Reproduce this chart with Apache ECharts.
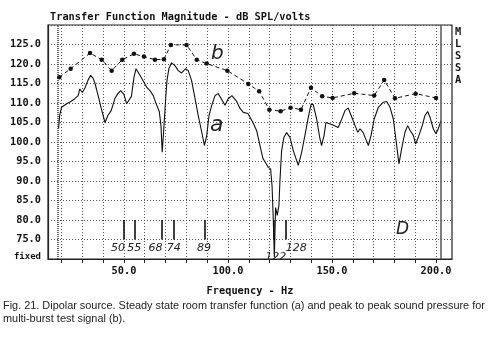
<!DOCTYPE html>
<html>
<head>
<meta charset="utf-8">
<title>Transfer Function Magnitude</title>
<script src="https://cdn.jsdelivr.net/npm/echarts@6.0.0/dist/echarts.min.js"></script>
<style>
  html, body { margin: 0; padding: 0; background: #fff; }
  #main { width: 500px; height: 351px; }
</style>
</head>
<body>
<div id="main"></div>
<script>
// curve (a): steady state room transfer function, [Hz, dB]
var curveA = [
  [18.6,103.5],[19.1,106.8],[20.0,108.9],[22.5,109.8],[24.5,110.4],[26.4,111.1],[28.0,111.9],
  [28.8,113.6],[30.0,112.7],[31.3,113.9],[32.7,115.8],[34.0,117.1],[35.2,116.3],[36.1,115.0],
  [37.6,111.9],[39.1,108.6],[40.9,105.0],[42.3,106.8],[43.9,108.1],[45.7,111.2],[47.1,112.4],
  [48.4,113.2],[50.0,112.2],[51.3,109.8],[52.2,109.4],[53.6,111.7],[54.8,116.5],[55.8,118.8],
  [57.7,117.1],[60.9,114.1],[62.5,113.2],[64.1,111.9],[65.4,109.9],[67.0,107.8],[67.8,104.2],
  [68.4,97.4],[69.1,102.9],[70.0,110.6],[70.7,115.8],[71.6,118.8],[72.9,120.3],[74.5,119.6],
  [76.1,118.3],[77.7,117.7],[79.7,118.8],[80.9,118.3],[82.5,115.8],[84.1,111.4],[85.7,106.8],
  [87.4,102.5],[88.7,99.1],[89.8,101.7],[90.9,106.8],[92.2,109.4],[93.8,111.9],[95.3,112.4],
  [97.0,110.9],[98.6,109.4],[100.1,111.1],[101.9,111.9],[104.2,110.4],[105.8,108.6],[107.4,107.6],
  [109.6,107.3],[112.0,105.0],[113.8,102.9],[115.4,99.1],[116.8,95.8],[118.3,94.5],[119.4,93.5],
  [120.5,93.1],[121.2,88.8],[121.8,79.9],[122.3,70.5],[122.9,83.2],[123.7,81.2],[124.5,83.7],
  [125.0,90.1],[125.8,97.8],[126.9,101.2],[128.2,102.4],[129.8,101.2],[131.4,97.8],[133.0,95.3],
  [133.8,94.0],[135.4,97.3],[137.0,101.7],[138.5,106.0],[139.9,109.6],[141.0,109.6],[142.6,106.0],
  [144.2,100.9],[145.0,99.1],[146.2,101.7],[147.1,105.0],[149.9,104.5],[153.0,103.7],[154.8,106.0],
  [156.3,108.1],[157.8,108.7],[159.5,106.4],[161.1,104.2],[162.4,102.5],[163.5,103.4],[165.0,102.4],
  [166.2,100.8],[167.5,99.1],[168.8,101.7],[170.3,105.9],[172.3,108.9],[174.7,110.2],[176.3,110.4],
  [177.9,108.9],[179.5,105.9],[181.1,99.1],[182.2,94.4],[183.5,98.3],[185.1,102.5],[186.4,104.2],
  [187.5,103.0],[189.1,101.7],[190.2,99.5],[191.5,101.2],[193.4,104.2],[194.7,106.8],[196.0,107.8],
  [197.1,106.4],[198.7,103.4],[200.0,102.1],[201.1,103.4],[202.4,105.5]
];

// curve (b): peak to peak sound pressure for multi-burst signal, [Hz, dB]
var curveB = [
  [18.9,116.6],[24.4,118.8],[33.7,122.8],[39.3,121.1],[44.1,118.3],[49.2,121.1],[54.8,122.6],
  [59.6,121.9],[64.9,121.1],[69.2,121.2],[72.6,124.9],[80.1,124.9],[85.0,121.1],[89.8,120.1],
  [99.7,118.3],[109.8,114.9],[115.0,113.0],[119.9,108.3],[125.3,107.9],[130.1,108.8],[135.1,108.3],
  [139.9,113.9],[145.3,111.7],[150.3,111.3],[160.7,112.5],[170.3,111.9],[175.1,115.9],[180.3,111.2],
  [190.2,112.4],[200.0,111.3]
];

// hand-marked frequencies (short bars from 75 to 80 dB)
var markFreqs = [50, 55, 68, 74, 89, 122, 128];
var markLabelOffsets = [[-6, 0], [0, 0], [-6, 0], [0, 0], [-1, 0], [2, 9], [10, 0]];
var markLow = 75, markHigh = 80;

// axis ticks
var xTicks = [20, 30, 40, 50, 60, 70, 80, 90, 100, 110, 120, 130, 140, 150, 160, 170, 180, 190, 200];
var xLabels = [50, 100, 150, 200];
var xMin = 13.5, xMax = 207.7;
var yMin = 70, yMax = 130, yStep = 5;

// cursor lines of the analyser screen
var cursorLeft = 18.3, cursorRight = 202.4;

var mono = 'DejaVu Sans Mono';
var chart = echarts.init(document.getElementById('main'));

var markData = markFreqs.map(function (f, i) {
  return [
    { coord: [f, markLow], name: String(f),
      label: { offset: markLabelOffsets[i] } },
    { coord: [f, markHigh] }
  ];
});

var option = {
  animation: false,
  backgroundColor: '#fff',
  title: [
    {
      text: 'Transfer Function Magnitude - dB SPL/volts',
      left: 50, top: 12, padding: 0,
      textStyle: { fontFamily: mono, fontSize: 10.3, fontWeight: 'bold', color: '#111' }
    },
    {
      text: 'M\nL\nS\nS\nA',
      left: 455, top: 26, padding: 0,
      textStyle: { fontFamily: mono, fontSize: 10.3, fontWeight: 'bold', color: '#111', lineHeight: 12 }
    },
    {
      text: 'Fig. 21. Dipolar source. Steady state room transfer function (a) and peak to peak sound pressure for\nmulti-burst test signal (b).',
      left: 3, top: 299, padding: 0,
      textStyle: { fontFamily: 'Liberation Sans', fontSize: 10.9, fontWeight: 'normal', color: '#222', lineHeight: 13 }
    }
  ],
  grid: {
    left: 48, right: 48, top: 25, bottom: 92,
    show: true, borderColor: '#222', borderWidth: 1.2
  },
  xAxis: {
    type: 'value', min: xMin, max: xMax,
    name: 'Frequency - Hz', nameLocation: 'middle', nameGap: 27,
    nameTextStyle: { fontFamily: mono, fontSize: 10.3, fontWeight: 'bold', color: '#111' },
    axisLine: { lineStyle: { color: '#222', width: 1.2 } },
    axisTick: { show: true, length: 4, customValues: xTicks, lineStyle: { color: '#222' } },
    axisLabel: {
      customValues: xLabels, margin: 7,
      fontFamily: mono, fontSize: 10.3, fontWeight: 'bold', color: '#111',
      formatter: function (v) { return v.toFixed(1); }
    },
    splitLine: { show: true, lineStyle: { color: '#555', type: [1, 2], width: 1 } }
  },
  yAxis: {
    type: 'value', min: yMin, max: yMax, interval: yStep,
    axisLine: { show: true, lineStyle: { color: '#222', width: 1.2 } },
    axisTick: { show: false },
    axisLabel: {
      margin: 7, fontFamily: mono, fontSize: 10.3, fontWeight: 'bold', color: '#111',
      formatter: function (v) {
        if (v === yMin) return '{f|fixed}';
        if (v === yMax) return '';
        return v.toFixed(1);
      },
      rich: { f: { fontFamily: mono, fontSize: 9, fontWeight: 'bold', color: '#111', padding: [0, 0, 4, 0] } }
    },
    splitLine: { show: true, lineStyle: { color: '#555', type: [1, 2], width: 1 } }
  },
  graphic: [
    { type: 'text', left: 211, top: 44, style: { text: 'b', font: 'italic 20px "DejaVu Sans"', fill: '#222' } },
    { type: 'text', left: 210, top: 114, style: { text: 'a', font: 'italic 22px "DejaVu Sans"', fill: '#222' } },
    { type: 'text', left: 396, top: 221, style: { text: 'D', font: 'italic 17px "DejaVu Sans"', fill: '#222' } }
  ],
  series: [
    {
      name: 'a', type: 'line', data: curveA,
      showSymbol: false, silent: true,
      lineStyle: { color: '#111', width: 1.1 },
      markLine: {
        silent: true, symbol: 'none',
        lineStyle: { color: '#111', width: 1.6, type: 'solid' },
        label: {
          show: true, position: 'start', distance: 3, formatter: '{b}',
          fontFamily: 'DejaVu Sans', fontStyle: 'italic', fontSize: 11, color: '#222'
        },
        data: markData.concat([
          [{ coord: [cursorLeft, yMin], label: { show: false }, lineStyle: { type: [1, 1], width: 1.5, color: '#333' } },
           { coord: [cursorLeft, yMax] }],
          [{ coord: [cursorRight, yMin], label: { show: false }, lineStyle: { type: 'solid', width: 1.5, color: '#555' } },
           { coord: [cursorRight, yMax] }]
        ])
      }
    },
    {
      name: 'b', type: 'line', data: curveB,
      symbol: 'circle', symbolSize: 4.5, silent: true,
      itemStyle: { color: '#111' },
      lineStyle: { color: '#111', width: 1, type: [4, 3] }
    }
  ]
};

chart.setOption(option);
</script>
</body>
</html>
